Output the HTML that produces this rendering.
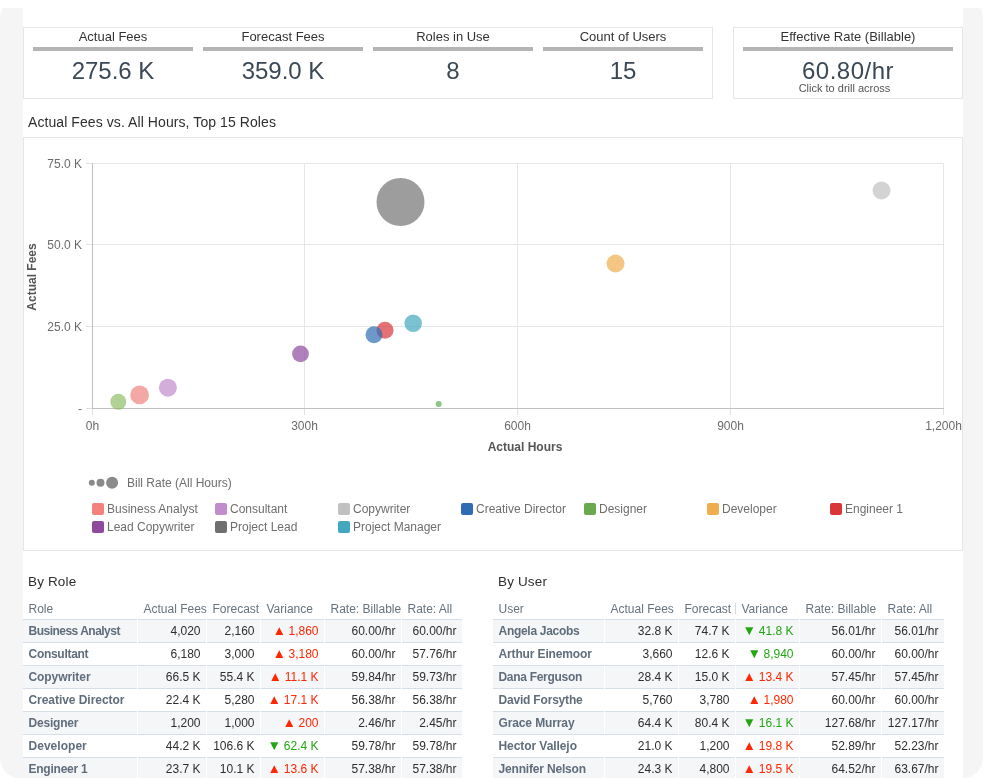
<!DOCTYPE html>
<html><head><meta charset="utf-8"><title>Dashboard</title>
<style>
html,body{margin:0;padding:0;}
body{width:983px;height:778px;overflow:hidden;background:#fff;position:relative;font-family:"Liberation Sans",sans-serif;}
*{box-sizing:border-box;}
.abs{position:absolute;}
#root{position:absolute;left:0;top:0;width:983px;height:778px;overflow:hidden;will-change:transform;}
#frame{position:absolute;left:0;top:-2px;width:983px;height:780px;background:#f5f5f5;border-radius:20px;}
#topstrip{position:absolute;left:0;top:0;width:983px;height:8px;background:#fff;}
#panel{position:absolute;left:23px;top:0;width:940px;height:778px;background:#fff;}
.box{position:absolute;border:1px solid #e6e6e6;background:#fff;}
.kpi{position:absolute;top:27px;width:170px;height:71px;}
.kpi .lab{position:absolute;left:0;width:170px;top:2px;height:15px;line-height:15px;font-size:13px;color:#333;text-align:center;white-space:nowrap;}
.kpi .bar{position:absolute;left:0;top:20px;width:170px;height:4px;background:#b5b5b5;}
.kpi .val{position:absolute;left:0;width:170px;top:29px;height:30px;line-height:30px;font-size:24px;color:#3b4856;text-align:center;white-space:nowrap;}
.kpi .sub{position:absolute;left:-3.5px;width:100%;top:55px;height:13px;line-height:13px;font-size:11px;color:#555;text-align:center;white-space:nowrap;}
.h{position:absolute;font-size:14px;color:#2f2f2f;white-space:nowrap;line-height:16px;height:16px;}
.tick{position:absolute;font-size:12px;color:#6b6b6b;white-space:nowrap;line-height:14px;height:14px;}
.leg{position:absolute;font-size:12px;color:#6e6e6e;white-space:nowrap;line-height:14px;height:14px;}
.sw{position:absolute;width:12px;height:12px;border-radius:2px;}
.th{position:absolute;top:601px;height:16px;line-height:16px;font-size:12px;color:#66737f;white-space:nowrap;}
.row{position:absolute;height:23px;}
.cell{position:absolute;top:0;height:23px;border-top:1px solid #d6dfe8;font-size:12px;line-height:22px;color:#2e2e2e;white-space:nowrap;text-align:right;padding-right:5.5px;overflow:hidden;}
.odd .cell{background:#f4f6f8;}
.even .cell{background:#fff;}
.cell.name{text-align:left;padding-left:5.5px;font-weight:700;color:#606d7b;font-size:12px;line-height:23px;}
.cell.up{color:#ff2600;}
.cell.dn{color:#22a711;}
.tri{display:inline-block;width:8.5px;height:8.5px;margin-right:5px;vertical-align:0px;}
</style></head>
<body>
<div id="root">
<div id="frame"></div><div id="topstrip"></div><div id="panel"></div>
<div class="box" style="left:23px;top:27px;width:690px;height:72px;"></div>
<div class="box" style="left:733px;top:27px;width:230px;height:72px;"></div>
<div class="kpi" style="left:33px;width:160px"><div class="lab" style="width:160px">Actual Fees</div><div class="bar" style="width:160px"></div><div class="val" style="width:160px;">275.6 K</div></div>
<div class="kpi" style="left:203px;width:160px"><div class="lab" style="width:160px">Forecast Fees</div><div class="bar" style="width:160px"></div><div class="val" style="width:160px;">359.0 K</div></div>
<div class="kpi" style="left:373px;width:160px"><div class="lab" style="width:160px">Roles in Use</div><div class="bar" style="width:160px"></div><div class="val" style="width:160px;">8</div></div>
<div class="kpi" style="left:543px;width:160px"><div class="lab" style="width:160px">Count of Users</div><div class="bar" style="width:160px"></div><div class="val" style="width:160px;">15</div></div>
<div class="kpi" style="left:743px;width:210px"><div class="lab" style="width:210px">Effective Rate (Billable)</div><div class="bar" style="width:210px"></div><div class="val" style="width:210px;letter-spacing:0.5px;">60.80/hr</div><div class="sub" style="width:210px">Click to drill across</div></div>
<div class="h" style="left:28px;top:114px;letter-spacing:0.08px;">Actual Fees vs. All Hours, Top 15 Roles</div>
<div class="box" style="left:23px;top:137px;width:940px;height:414px;"></div>
<svg class="abs" style="left:0;top:0" width="983" height="778" viewBox="0 0 983 778"><rect x="304" y="163" width="1" height="245" fill="#e6e6e6"/><rect x="517" y="163" width="1" height="245" fill="#e6e6e6"/><rect x="730" y="163" width="1" height="245" fill="#e6e6e6"/><rect x="943" y="163" width="1" height="245" fill="#e6e6e6"/><rect x="92" y="163" width="852" height="1" fill="#e6e6e6"/><rect x="92" y="244" width="852" height="1" fill="#e6e6e6"/><rect x="92" y="326" width="852" height="1" fill="#e6e6e6"/><rect x="92" y="163" width="1" height="246" fill="#c0c0c0"/><rect x="92" y="408" width="852" height="1" fill="#c0c0c0"/><rect x="86" y="163" width="6" height="1" fill="#e0e0e0"/><rect x="86" y="244" width="6" height="1" fill="#e0e0e0"/><rect x="86" y="326" width="6" height="1" fill="#e0e0e0"/><rect x="86" y="408" width="6" height="1" fill="#e0e0e0"/><rect x="92" y="409" width="1" height="6" fill="#e0e0e0"/><rect x="304" y="409" width="1" height="6" fill="#e0e0e0"/><rect x="517" y="409" width="1" height="6" fill="#e0e0e0"/><rect x="730" y="409" width="1" height="6" fill="#e0e0e0"/><rect x="943" y="409" width="1" height="6" fill="#e0e0e0"/><circle cx="400.5" cy="202" r="24" fill="#747474" fill-opacity="0.7"/><circle cx="881.5" cy="190.5" r="9" fill="#c1c1c1" fill-opacity="0.7"/><circle cx="615.5" cy="263.5" r="9" fill="#f0ad4e" fill-opacity="0.7"/><circle cx="385" cy="330.3" r="8.5" fill="#d9363a" fill-opacity="0.7"/><circle cx="374" cy="334.8" r="8.5" fill="#2f6cb3" fill-opacity="0.7"/><circle cx="413.2" cy="323.2" r="8.75" fill="#41a8bd" fill-opacity="0.7"/><circle cx="300.5" cy="353.9" r="8.4" fill="#8e4a9e" fill-opacity="0.7"/><circle cx="167.9" cy="387.7" r="9" fill="#c08ccc" fill-opacity="0.7"/><circle cx="139.6" cy="394.9" r="9.4" fill="#f08380" fill-opacity="0.7"/><circle cx="118.3" cy="401.8" r="8" fill="#7fb24e" fill-opacity="0.6"/><circle cx="438.7" cy="404" r="3" fill="#5fae50" fill-opacity="0.7"/><circle cx="91.8" cy="482.8" r="3" fill="#8a8a8a"/><circle cx="100.5" cy="482.8" r="4" fill="#8a8a8a"/><circle cx="112.1" cy="482.8" r="6" fill="#8a8a8a"/></svg>
<div class="tick" style="right:901px;top:157px;text-align:right;">75.0 K</div>
<div class="tick" style="right:901px;top:238px;text-align:right;">50.0 K</div>
<div class="tick" style="right:901px;top:320px;text-align:right;">25.0 K</div>
<div class="tick" style="right:901px;top:402px;text-align:right;">-</div>
<div class="tick" style="left:52.5px;width:80px;top:419px;text-align:center;">0h</div>
<div class="tick" style="left:264.5px;width:80px;top:419px;text-align:center;">300h</div>
<div class="tick" style="left:477.5px;width:80px;top:419px;text-align:center;">600h</div>
<div class="tick" style="left:690.5px;width:80px;top:419px;text-align:center;">900h</div>
<div class="tick" style="left:903.5px;width:80px;top:419px;text-align:center;">1,200h</div>
<div class="tick" style="left:477px;width:96px;top:440px;text-align:center;font-weight:700;color:#555;">Actual Hours</div>
<div class="tick" style="left:-16px;width:96px;top:270px;text-align:center;font-weight:700;color:#555;transform:rotate(-90deg);">Actual Fees</div>
<div class="leg" style="left:127px;top:476px;">Bill Rate (All Hours)</div>
<div class="sw" style="left:92px;top:503px;background:#f2827b;"></div><div class="leg" style="left:107px;top:502px;">Business Analyst</div>
<div class="sw" style="left:215px;top:503px;background:#c08ccc;"></div><div class="leg" style="left:230px;top:502px;">Consultant</div>
<div class="sw" style="left:338px;top:503px;background:#c1c1c1;"></div><div class="leg" style="left:353px;top:502px;">Copywriter</div>
<div class="sw" style="left:461px;top:503px;background:#2f6cb3;"></div><div class="leg" style="left:476px;top:502px;">Creative Director</div>
<div class="sw" style="left:584px;top:503px;background:#6aaa4c;"></div><div class="leg" style="left:599px;top:502px;">Designer</div>
<div class="sw" style="left:707px;top:503px;background:#f0ad4e;"></div><div class="leg" style="left:722px;top:502px;">Developer</div>
<div class="sw" style="left:830px;top:503px;background:#d9363a;"></div><div class="leg" style="left:845px;top:502px;">Engineer 1</div>
<div class="sw" style="left:92px;top:521px;background:#8e4a9e;"></div><div class="leg" style="left:107px;top:520px;">Lead Copywriter</div>
<div class="sw" style="left:215px;top:521px;background:#6f6f6f;"></div><div class="leg" style="left:230px;top:520px;">Project Lead</div>
<div class="sw" style="left:338px;top:521px;background:#41a8bd;"></div><div class="leg" style="left:353px;top:520px;">Project Manager</div>
<div class="h" style="left:28px;top:574px;font-size:13.5px;letter-spacing:0.15px;">By Role</div>
<div class="h" style="left:498px;top:574px;font-size:13.5px;letter-spacing:0.15px;">By User</div>
<div class="th" style="left:28.5px;">Role</div>
<div class="th" style="left:143.5px;">Actual Fees</div>
<div class="th" style="left:212.5px;">Forecast</div>
<div class="th" style="left:266.5px;">Variance</div>
<div class="th" style="left:330.5px;">Rate: Billable</div>
<div class="th" style="left:407.5px;">Rate: All</div>
<div class="row odd" style="left:23px;top:619px;width:440px;"><div class="cell name" style="left:0px;width:114px;letter-spacing:-0.51px;">Business Analyst</div><div class="cell" style="left:115px;width:68px;">4,020</div><div class="cell" style="left:184px;width:53px;">2,160</div><div class="cell up" style="left:238px;width:63px;"><svg class="tri" viewBox="0 0 9 9"><path d="M4.5 0.3L8.8 8.7H0.2Z" fill="#ff2600"/></svg>1,860</div><div class="cell" style="left:302px;width:76px;">60.00/hr</div><div class="cell" style="left:379px;width:60px;">60.00/hr</div></div>
<div class="row even" style="left:23px;top:642px;width:440px;"><div class="cell name" style="left:0px;width:114px;letter-spacing:-0.29px;">Consultant</div><div class="cell" style="left:115px;width:68px;">6,180</div><div class="cell" style="left:184px;width:53px;">3,000</div><div class="cell up" style="left:238px;width:63px;"><svg class="tri" viewBox="0 0 9 9"><path d="M4.5 0.3L8.8 8.7H0.2Z" fill="#ff2600"/></svg>3,180</div><div class="cell" style="left:302px;width:76px;">60.00/hr</div><div class="cell" style="left:379px;width:60px;">57.76/hr</div></div>
<div class="row odd" style="left:23px;top:665px;width:440px;"><div class="cell name" style="left:0px;width:114px;letter-spacing:-0.07px;">Copywriter</div><div class="cell" style="left:115px;width:68px;">66.5 K</div><div class="cell" style="left:184px;width:53px;">55.4 K</div><div class="cell up" style="left:238px;width:63px;"><svg class="tri" viewBox="0 0 9 9"><path d="M4.5 0.3L8.8 8.7H0.2Z" fill="#ff2600"/></svg>11.1 K</div><div class="cell" style="left:302px;width:76px;">59.84/hr</div><div class="cell" style="left:379px;width:60px;">59.73/hr</div></div>
<div class="row even" style="left:23px;top:688px;width:440px;"><div class="cell name" style="left:0px;width:114px;letter-spacing:-0.05px;">Creative Director</div><div class="cell" style="left:115px;width:68px;">22.4 K</div><div class="cell" style="left:184px;width:53px;">5,280</div><div class="cell up" style="left:238px;width:63px;"><svg class="tri" viewBox="0 0 9 9"><path d="M4.5 0.3L8.8 8.7H0.2Z" fill="#ff2600"/></svg>17.1 K</div><div class="cell" style="left:302px;width:76px;">56.38/hr</div><div class="cell" style="left:379px;width:60px;">56.38/hr</div></div>
<div class="row odd" style="left:23px;top:711px;width:440px;"><div class="cell name" style="left:0px;width:114px;letter-spacing:-0.21px;">Designer</div><div class="cell" style="left:115px;width:68px;">1,200</div><div class="cell" style="left:184px;width:53px;">1,000</div><div class="cell up" style="left:238px;width:63px;"><svg class="tri" viewBox="0 0 9 9"><path d="M4.5 0.3L8.8 8.7H0.2Z" fill="#ff2600"/></svg>200</div><div class="cell" style="left:302px;width:76px;">2.46/hr</div><div class="cell" style="left:379px;width:60px;">2.45/hr</div></div>
<div class="row even" style="left:23px;top:734px;width:440px;"><div class="cell name" style="left:0px;width:114px;letter-spacing:0.03px;">Developer</div><div class="cell" style="left:115px;width:68px;">44.2 K</div><div class="cell" style="left:184px;width:53px;">106.6 K</div><div class="cell dn" style="left:238px;width:63px;"><svg class="tri" viewBox="0 0 9 9"><path d="M0.2 0.3H8.8L4.5 8.7Z" fill="#22a711"/></svg>62.4 K</div><div class="cell" style="left:302px;width:76px;">59.78/hr</div><div class="cell" style="left:379px;width:60px;">59.78/hr</div></div>
<div class="row odd" style="left:23px;top:757px;width:440px;"><div class="cell name" style="left:0px;width:114px;letter-spacing:-0.23px;">Engineer 1</div><div class="cell" style="left:115px;width:68px;">23.7 K</div><div class="cell" style="left:184px;width:53px;">10.1 K</div><div class="cell up" style="left:238px;width:63px;"><svg class="tri" viewBox="0 0 9 9"><path d="M4.5 0.3L8.8 8.7H0.2Z" fill="#ff2600"/></svg>13.6 K</div><div class="cell" style="left:302px;width:76px;">57.38/hr</div><div class="cell" style="left:379px;width:60px;">57.38/hr</div></div>
<div class="th" style="left:498.5px;">User</div>
<div class="th" style="left:610.5px;">Actual Fees</div>
<div class="th" style="left:684.5px;">Forecast</div>
<div class="th" style="left:741.5px;">Variance</div>
<div class="th" style="left:805.5px;">Rate: Billable</div>
<div class="th" style="left:887.5px;">Rate: All</div>
<div class="row odd" style="left:493px;top:619px;width:452px;"><div class="cell name" style="left:0px;width:111px;letter-spacing:-0.29px;">Angela Jacobs</div><div class="cell" style="left:112px;width:73px;">32.8 K</div><div class="cell" style="left:186px;width:56px;">74.7 K</div><div class="cell dn" style="left:243px;width:63px;"><svg class="tri" viewBox="0 0 9 9"><path d="M0.2 0.3H8.8L4.5 8.7Z" fill="#22a711"/></svg>41.8 K</div><div class="cell" style="left:307px;width:81px;">56.01/hr</div><div class="cell" style="left:389px;width:62px;">56.01/hr</div></div>
<div class="row even" style="left:493px;top:642px;width:452px;"><div class="cell name" style="left:0px;width:111px;letter-spacing:-0.14px;">Arthur Einemoor</div><div class="cell" style="left:112px;width:73px;">3,660</div><div class="cell" style="left:186px;width:56px;">12.6 K</div><div class="cell dn" style="left:243px;width:63px;"><svg class="tri" viewBox="0 0 9 9"><path d="M0.2 0.3H8.8L4.5 8.7Z" fill="#22a711"/></svg>8,940</div><div class="cell" style="left:307px;width:81px;">60.00/hr</div><div class="cell" style="left:389px;width:62px;">60.00/hr</div></div>
<div class="row odd" style="left:493px;top:665px;width:452px;"><div class="cell name" style="left:0px;width:111px;letter-spacing:-0.3px;">Dana Ferguson</div><div class="cell" style="left:112px;width:73px;">28.4 K</div><div class="cell" style="left:186px;width:56px;">15.0 K</div><div class="cell up" style="left:243px;width:63px;"><svg class="tri" viewBox="0 0 9 9"><path d="M4.5 0.3L8.8 8.7H0.2Z" fill="#ff2600"/></svg>13.4 K</div><div class="cell" style="left:307px;width:81px;">57.45/hr</div><div class="cell" style="left:389px;width:62px;">57.45/hr</div></div>
<div class="row even" style="left:493px;top:688px;width:452px;"><div class="cell name" style="left:0px;width:111px;letter-spacing:-0.19px;">David Forsythe</div><div class="cell" style="left:112px;width:73px;">5,760</div><div class="cell" style="left:186px;width:56px;">3,780</div><div class="cell up" style="left:243px;width:63px;"><svg class="tri" viewBox="0 0 9 9"><path d="M4.5 0.3L8.8 8.7H0.2Z" fill="#ff2600"/></svg>1,980</div><div class="cell" style="left:307px;width:81px;">60.00/hr</div><div class="cell" style="left:389px;width:62px;">60.00/hr</div></div>
<div class="row odd" style="left:493px;top:711px;width:452px;"><div class="cell name" style="left:0px;width:111px;letter-spacing:-0.12px;">Grace Murray</div><div class="cell" style="left:112px;width:73px;">64.4 K</div><div class="cell" style="left:186px;width:56px;">80.4 K</div><div class="cell dn" style="left:243px;width:63px;"><svg class="tri" viewBox="0 0 9 9"><path d="M0.2 0.3H8.8L4.5 8.7Z" fill="#22a711"/></svg>16.1 K</div><div class="cell" style="left:307px;width:81px;">127.68/hr</div><div class="cell" style="left:389px;width:62px;">127.17/hr</div></div>
<div class="row even" style="left:493px;top:734px;width:452px;"><div class="cell name" style="left:0px;width:111px;letter-spacing:-0.07px;">Hector Vallejo</div><div class="cell" style="left:112px;width:73px;">21.0 K</div><div class="cell" style="left:186px;width:56px;">1,200</div><div class="cell up" style="left:243px;width:63px;"><svg class="tri" viewBox="0 0 9 9"><path d="M4.5 0.3L8.8 8.7H0.2Z" fill="#ff2600"/></svg>19.8 K</div><div class="cell" style="left:307px;width:81px;">52.89/hr</div><div class="cell" style="left:389px;width:62px;">52.23/hr</div></div>
<div class="row odd" style="left:493px;top:757px;width:452px;"><div class="cell name" style="left:0px;width:111px;letter-spacing:-0.18px;">Jennifer Nelson</div><div class="cell" style="left:112px;width:73px;">24.3 K</div><div class="cell" style="left:186px;width:56px;">4,800</div><div class="cell up" style="left:243px;width:63px;"><svg class="tri" viewBox="0 0 9 9"><path d="M4.5 0.3L8.8 8.7H0.2Z" fill="#ff2600"/></svg>19.5 K</div><div class="cell" style="left:307px;width:81px;">64.52/hr</div><div class="cell" style="left:389px;width:62px;">63.67/hr</div></div>
<div class="abs" style="left:735px;top:603px;width:1px;height:11px;background:#d8d8d8;"></div>
</div>
</body></html>
